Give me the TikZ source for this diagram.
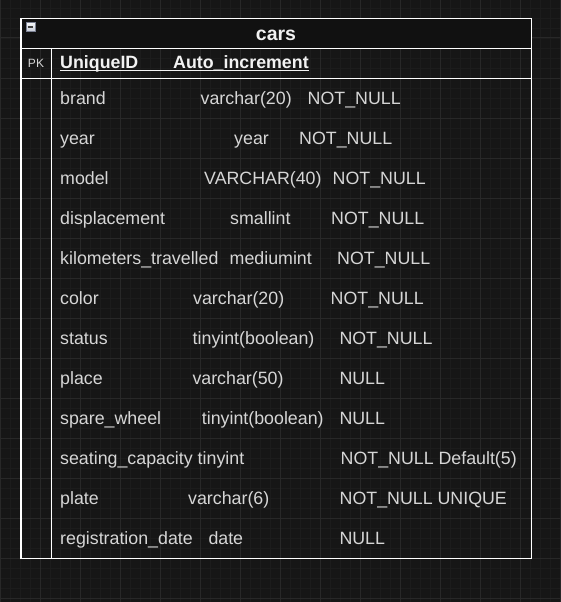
\documentclass[tikz,border=0pt]{standalone}
\usepackage{fontspec}
\setmainfont{Liberation Sans}
\definecolor{canvas}{HTML}{161616}
\definecolor{minorline}{HTML}{1C1C1C}
\definecolor{majorline}{HTML}{282828}
\definecolor{headfill}{HTML}{111111}
\definecolor{celltext}{HTML}{D6D6D6}
\definecolor{keytext}{HTML}{F2F2F2}
\definecolor{iconfill}{HTML}{C5CAD6}
\definecolor{iconedge}{HTML}{7C8294}
\tikzset{
  minorgrid/.style={draw=minorline, line width=0.8pt},
  majorgrid/.style={draw=majorline, line width=1pt},
  frame/.style={draw=white, line width=1.1pt},
  cell/.style={anchor=base west, inner sep=0pt, text=celltext,
               font=\fontsize{17.8}{20}\selectfont},
  keycell/.style={anchor=base west, inner sep=0pt, text=keytext,
               font=\bfseries\fontsize{17.8}{20}\selectfont},
  titlecell/.style={anchor=base, inner sep=0pt, text=keytext,
               font=\bfseries\fontsize{19.5}{22}\selectfont},
  pkcell/.style={anchor=base, inner sep=0pt, text=celltext,
               font=\fontsize{12}{14}\selectfont},
}
\begin{document}
\begin{tikzpicture}[x=1pt,y=-1pt]
  % canvas and grid
  \fill[canvas] (0,0) rectangle (560,602);
  \useasboundingbox (0,0) rectangle (560,602);
  \foreach \x in {10,20,...,550} \draw[minorgrid] (\x,0) -- (\x,602);
  \foreach \y in {8,18,...,598} \draw[minorgrid] (0,\y) -- (560,\y);
  \foreach \x in {0,40,...,560} \draw[majorgrid] (\x,0) -- (\x,602);
  \foreach \y in {38,78,...,598} \draw[majorgrid] (0,\y) -- (560,\y);

  % table outline
  \node[inner sep=0pt, minimum width=510pt, minimum height=540pt, anchor=north west]
    (table) at (21,18.5) {};
  \fill[headfill] (table.north west) rectangle ([yshift=-30pt]table.north east);
  \coordinate (headL) at (21,48.5);
  \coordinate (headR) at (531,48.5);
  \coordinate (pkL) at (21,78.5);
  \coordinate (pkR) at (531,78.5);
  \coordinate (divT) at (51.5,48.5);
  \coordinate (divB) at (51.5,558.5);
  \draw[frame] (table.north west) rectangle (table.south east);
  \draw[frame] (headL) -- (headR);
  \draw[frame] (pkL) -- (pkR);
  \draw[frame] (divT) -- (divB);

  % collapse icon
  \node[inner sep=0pt, minimum size=9pt, draw=iconedge, line width=0.6pt,
        top color=white!85!iconfill, bottom color=iconfill] (icon) at (30.5,27) {};
  \draw[black!75, line width=1.6pt] ([xshift=2pt]icon.west) -- ([xshift=-2pt]icon.east);

  % title and key row
  \node[titlecell] (title) at (276,40.5) {cars};
  \node[pkcell] (pk) at (36,67) {PK};
  \node[keycell] (kid) at (60,68.5) {UniqueID};
  \node[keycell] (kinc) at (173,68.5) {Auto\_increment};
  \draw[keytext, line width=1.5pt] ([yshift=-2pt]kid.base west) -- ([yshift=-2pt]kinc.base east);

  % field rows
  \foreach \n/\t/\tx/\c/\cx [count=\i from 0] in {
      brand/varchar(20)/200.5/NOT\_NULL/307.5,
      year/year/234/NOT\_NULL/299,
      model/VARCHAR(40)/204/NOT\_NULL/332.5,
      displacement/smallint/230/NOT\_NULL/331,
      kilometers\_travelled/mediumint/229.5/NOT\_NULL/337,
      color/varchar(20)/193/NOT\_NULL/330.5,
      status/tinyint(boolean)/192.5/NOT\_NULL/339.3,
      place/varchar(50)/192.3/NULL/339.3,
      spare\_wheel/tinyint(boolean)/201.7/NULL/339.3,
      seating\_capacity tinyint//0/NOT\_NULL Default(5)/340.5,
      plate/varchar(6)/188/NOT\_NULL UNIQUE/339.5,
      registration\_date/date/208.3/NULL/339.3} {
    \pgfmathsetmacro{\yb}{104+40*\i}
    \node[cell] (name\i) at (60,\yb) {\n};
    \node[cell] (type\i) at (\tx,\yb) {\t};
    \node[cell] (cons\i) at (\cx,\yb) {\c};
  }
\end{tikzpicture}
\end{document}
